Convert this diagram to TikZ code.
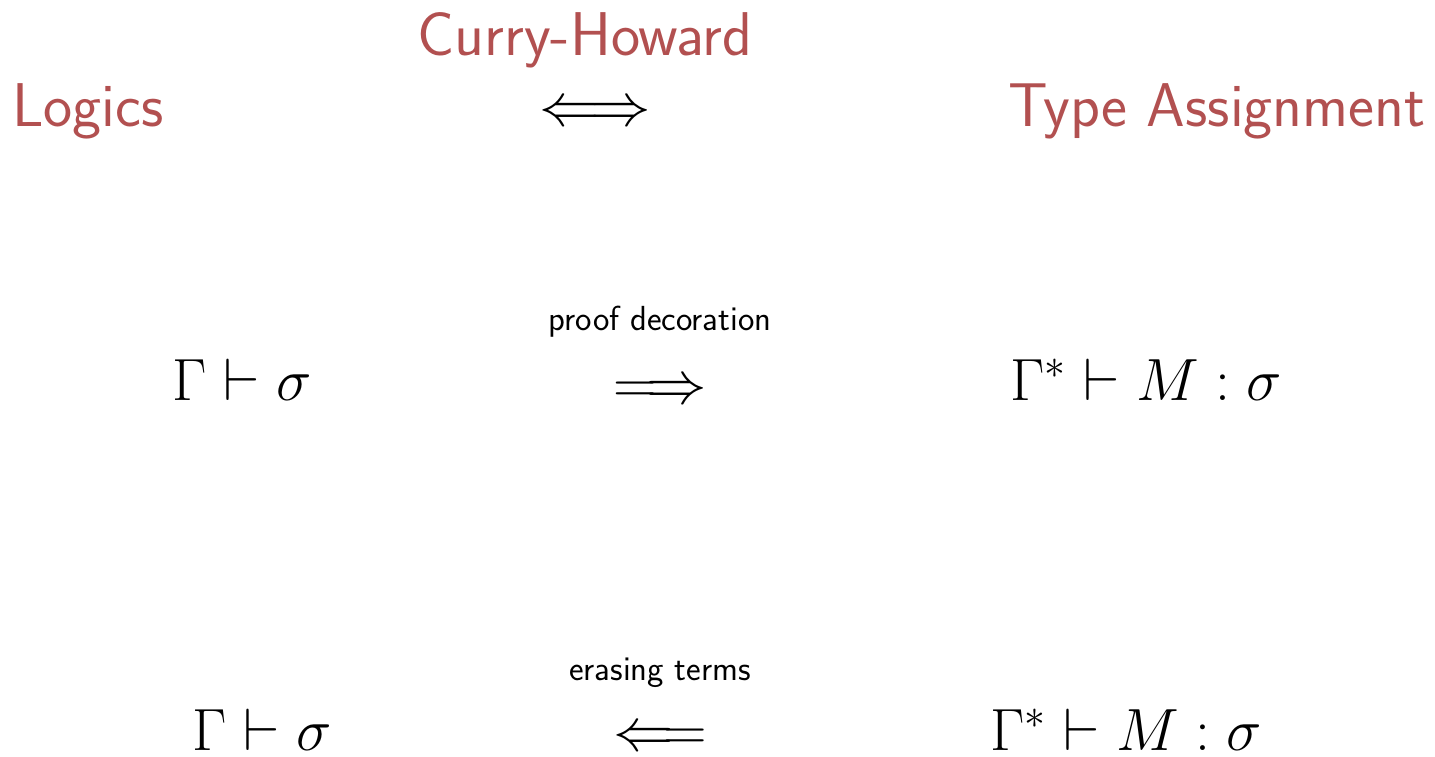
\RequirePackage{fix-cm}
\documentclass[tikz,border=0pt]{standalone}
\usepackage{fontspec}
\definecolor{alertred}{RGB}{178,80,80}
\tikzset{
  title/.style={inner sep=0pt, text=alertred, font=\sffamily\fontsize{30.9}{37}\selectfont},
  judg/.style={inner sep=0pt, font=\fontsize{29.8}{36}\selectfont},
  arr/.style={inner sep=0pt, font=\fontsize{30.2}{36}\selectfont},
  lbl/.style={inner sep=0pt, font=\sffamily\fontsize{17.4}{21}\selectfont}
}
\begin{document}
\begin{tikzpicture}[x=0.5pt,y=-0.5pt]
\useasboundingbox (0,0) rectangle (1435,756);
\node[title, anchor=base] (ch) at (585,55) {Curry-Howard};
\node[title, anchor=base west] (logics) at (12,126) {Logics};
\node[arr, anchor=base] (iff) at (595,125) {$\Longleftrightarrow$};
\node[title, anchor=base east] (ta) at (1426,126) {Type Assignment};
\node[lbl, anchor=base] (pd) at (660,330) {proof decoration};
\node[arr, anchor=base] (imp) at (660,403) {$\Longrightarrow$};
\node[judg, anchor=base west] (l1) at (172,400) {$\Gamma\vdash\sigma$};
\node[judg, anchor=base west] (r1) at (1010,400) {$\Gamma^{*}\vdash M:\sigma$};
\node[lbl, anchor=base] (et) at (660,680) {erasing terms};
\node[arr, anchor=base] (rev) at (660,750) {$\Longleftarrow$};
\node[judg, anchor=base west] (l2) at (192,750) {$\Gamma\vdash\sigma$};
\node[judg, anchor=base west] (r2) at (990,750) {$\Gamma^{*}\vdash M:\sigma$};
\end{tikzpicture}
\end{document}
